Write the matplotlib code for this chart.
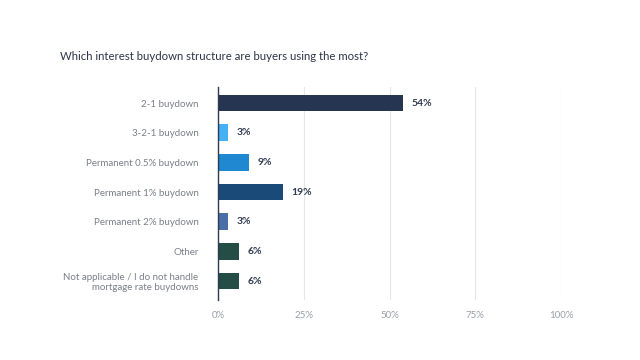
import matplotlib

matplotlib.use('Agg')
import matplotlib.pyplot as plt

# data
categories = [
    '2-1 buydown',
    '3-2-1 buydown',
    'Permanent 0.5% buydown',
    'Permanent 1% buydown',
    'Permanent 2% buydown',
    'Other',
    'Not applicable / I do not handle\nmortgage rate buydowns',
]
values = [54, 3, 9, 19, 3, 6, 6]
colors = ['#263552', '#45b0f5', '#1f88d0', '#1a4a78', '#4a6ea8', '#244d45', '#244d45']
x_ticks = [0, 25, 50, 75, 100]
x_labels = ['0%', '25%', '50%', '75%', '100%']

plt.rcParams['font.family'] = ['Lato', 'DejaVu Sans']

fig = plt.figure(figsize=(6.4, 3.6), dpi=100)
ax = fig.add_axes([218 / 640, 60 / 360, 343 / 640, 213 / 360])

pos = list(range(len(categories)))
ax.barh(pos, values, height=0.57, color=colors, zorder=3)

# value labels next to each bar
for p, v in zip(pos, values):
    ax.text(v + 2.5, p, f'{v}%', va='center', ha='left', fontsize=7.5,
            fontweight='bold', color='#2e3a4f')

ax.set_xlim(0, 100)
ax.set_ylim(6.64, -0.54)
ax.set_yticks(pos)
ax.set_yticklabels(categories, fontsize=7, color='#7a7f88', linespacing=1.1)
ax.set_xticks(x_ticks)
ax.set_xticklabels(x_labels, fontsize=7, color='#9a9ea6')
ax.tick_params(axis='y', length=0, pad=14)
ax.tick_params(axis='x', length=0, pad=8)

ax.grid(axis='x', color='#e6e6e6', linewidth=0.8, zorder=0)
for s in ['top', 'right', 'bottom']:
    ax.spines[s].set_visible(False)
ax.spines['left'].set_color('#2e3a4f')
ax.spines['left'].set_linewidth(1.0)
ax.spines['left'].set_zorder(4)

fig.text(60 / 640, 1 - 57 / 360, 'Which interest buydown structure are buyers using the most?',
         fontsize=8.2, color='#2e3548', va='center', ha='left')

fig.savefig('out.png', dpi=100)
plt.close(fig)
